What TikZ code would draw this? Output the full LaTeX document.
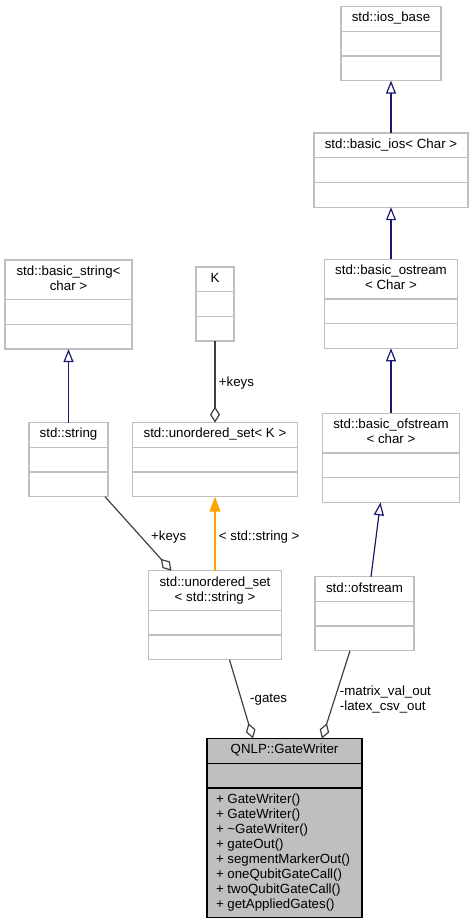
\documentclass[tikz,border=0pt]{standalone}
\usepackage{fontspec}
\setmainfont{Liberation Sans}
\usepackage{tikz}
\usetikzlibrary{arrows.meta,positioning,shapes.multipart}
\definecolor{navyline}{HTML}{191970}
\definecolor{edgegray}{HTML}{404040}
\definecolor{boxgray}{HTML}{BFBFBF}
\definecolor{orangeline}{HTML}{FFA500}
\tikzstyle{cls}=[rectangle split,rectangle split parts=3,draw=boxgray,line width=1.3pt,
inner xsep=3pt,inner ysep=4.2pt,outer sep=0pt]
\tikzstyle{maincls}=[cls,draw=black,fill=boxgray,inner xsep=9pt,
rectangle split part align={center,center,left}]
\tikzstyle{inherit}=[draw=navyline,line width=1.2pt,-{Triangle[open,length=13pt,width=10pt]}]
\tikzstyle{templ}=[draw=orangeline,line width=1.2pt,-{Triangle[length=15pt,width=11pt]}]
\tikzstyle{usage}=[draw=edgegray,line width=1.2pt,-{Diamond[open,length=16pt,width=10pt]}]

\begin{document}
\begin{tikzpicture}[x=1pt,y=1pt,font=\fontsize{13.3}{15}\selectfont]
            \useasboundingbox (0,0) rectangle (474,-923);

            % STREAM PART

            \node[cls,minimum width=100pt,anchor=north] (iosb) at (391,-6.5)
                {\strut std::ios\_base \nodepart{second}\strut \nodepart{third}\strut};
            \node[cls,minimum width=154pt,below=52.5pt of iosb] (bios)
                {\strut std::basic\_ios< Char > \nodepart{second}\strut \nodepart{third}\strut};
            \node[cls,minimum width=133pt,below=52pt of bios] (bostr)
                {\begin{tabular}{@{}c@{}}std::basic\_ostream\\< Char >\end{tabular} \nodepart{second}\strut \nodepart{third}\strut};
            \node[cls,minimum width=137pt,below=65pt of bostr] (bofs)
                {\begin{tabular}{@{}c@{}}std::basic\_ofstream\\< char >\end{tabular} \nodepart{second}\strut \nodepart{third}\strut};
            \node[cls,minimum width=99pt,anchor=north] (ofs) at (364.5,-576.7)
                {\strut std::ofstream \nodepart{second}\strut \nodepart{third}\strut};

            \path (bios.north) edge[inherit] node {} (iosb.south);
            \path (bostr.north) edge[inherit] node {} (bios.south);
            \path (bofs.north) edge[inherit] node {} (bostr.south);
            \path ([xshift=6.5pt]ofs.north) edge[inherit] node {} ([xshift=-10.5pt]bofs.south);

            % STRING PART

            \node[cls,minimum width=127pt,anchor=north] (bstr) at (68.5,-260)
                {\begin{tabular}{@{}c@{}}std::basic\_string<\\char >\end{tabular} \nodepart{second}\strut \nodepart{third}\strut};
            \node[cls,minimum width=79pt,below=73.5pt of bstr] (str)
                {\strut std::string \nodepart{second}\strut \nodepart{third}\strut};

            \path (str.north) edge[inherit] node {} (bstr.south);

            % SET PART

            \node[cls,minimum width=38pt,anchor=north] (K) at (215,-267)
                {\strut K \nodepart{second}\strut \nodepart{third}\strut};
            \node[cls,minimum width=165pt,below=81.5pt of K] (usetK)
                {\strut std::unordered\_set< K > \nodepart{second}\strut \nodepart{third}\strut};
            \node[cls,minimum width=133pt,below=74pt of usetK] (usetstr)
                {\begin{tabular}{@{}c@{}}std::unordered\_set\\< std::string >\end{tabular} \nodepart{second}\strut \nodepart{third}\strut};

            \path (K.south) edge[usage] node[right,yshift=-1pt] {+keys} (usetK.north);
            \path ([xshift=-3pt]str.south east) edge[usage] node[right=9pt,yshift=-3pt] {+keys} ([xshift=23pt]usetstr.north west);
            \path (usetstr.north) edge[templ] node[right,yshift=-3pt] {< std::string >} (usetK.south);

            % GATEWRITER PART

            \node[maincls,minimum width=155pt,anchor=north] (gw) at (284.5,-738.5)
                {\strut QNLP::GateWriter \nodepart{second}\strut
                 \nodepart{third}\begin{tabular}{@{}l@{}}+ GateWriter()\\+ GateWriter()\\+ \textasciitilde GateWriter()\\
                 + gateOut()\\+ segmentMarkerOut()\\+ oneQubitGateCall()\\+ twoQubitGateCall()\\+ getAppliedGates()\end{tabular}};

            \path ([xshift=14.5pt]usetstr.south) edge[usage] node[right=5pt] {-gates} ([xshift=-31.5pt]gw.north);
            \path ([xshift=-14.5pt]ofs.south) edge[usage] node[right,align=left,yshift=-5pt] {-matrix\_val\_out\\-latex\_csv\_out} ([xshift=37.5pt]gw.north);

\end{tikzpicture}
\end{document}
